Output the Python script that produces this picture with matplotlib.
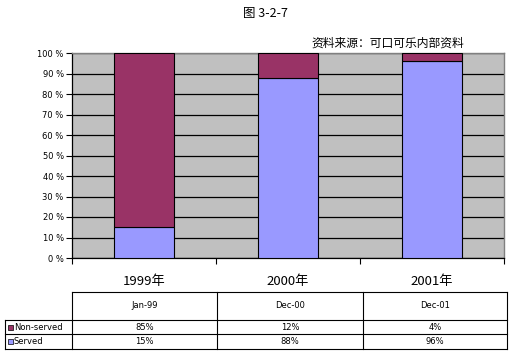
import numpy as np
import matplotlib.pyplot as plt

plt.rcParams['font.family'] = ['Noto Sans CJK SC', 'DejaVu Sans']

# data
years = ['1999年', '2000年', '2001年']
dates = ['Jan-99', 'Dec-00', 'Dec-01']
served = [15, 88, 96]
non_served = [85, 12, 4]
yticks = list(range(0, 101, 10))

c_non = '#993366'
c_srv = '#9999FF'

W, H = 513, 359
fig = plt.figure(figsize=(W / 100, H / 100), dpi=100)

# main plot area
x0, x1, y0, y1 = 72, 504, 258, 53
ax = fig.add_axes([x0 / W, 1 - y0 / H, (x1 - x0) / W, (y0 - y1) / H])
ax.set_facecolor('#C0C0C0')
x = np.arange(len(years))
ax.bar(x, served, width=0.41, color=c_srv, edgecolor='black', linewidth=0.8, zorder=3)
ax.bar(x, non_served, bottom=served, width=0.41, color=c_non, edgecolor='black',
       linewidth=0.8, zorder=3)
ax.set_xlim(-0.5, 2.5)
ax.set_ylim(0, 100)
ax.set_yticks(yticks)
ax.set_yticklabels([f'{v} %' for v in yticks], fontsize=6, family='DejaVu Sans')
ax.yaxis.grid(True, color='black', linewidth=0.9, zorder=1)
ax.set_xticks([-0.5, 0.5, 1.5, 2.5])
ax.set_xticklabels([])
ax.tick_params(axis='both', direction='out', length=4, width=0.8, color='black', pad=2)
for s in ['top', 'right']:
    ax.spines[s].set_color('#808080')
    ax.spines[s].set_linewidth(1)
for s in ['left', 'bottom']:
    ax.spines[s].set_color('black')
    ax.spines[s].set_linewidth(0.9)

# overlay in pixel coordinates for titles and data table
ov = fig.add_axes([0, 0, 1, 1])
ov.set_xlim(0, W)
ov.set_ylim(H, 0)
ov.axis('off')

ov.text(265, 14, '图 3-2-7', ha='center', va='center', fontsize=9)
ov.text(388, 43, '资料来源：可口可乐内部资料', ha='center', va='center', fontsize=8.5)

cx = [x0 + (i + 0.5) * (x1 - x0) / 3 for i in range(3)]
for i, lab in enumerate(years):
    ov.text(cx[i], 281, lab, ha='center', va='center', fontsize=9.5)

# table
cols = [72, 217, 363, 507]
rows = [292, 320, 334, 349]
lw = 0.8
ov.plot([cols[0], cols[-1]], [rows[0], rows[0]], color='black', lw=lw)
for r in rows[1:]:
    ov.plot([5, cols[-1]], [r, r], color='black', lw=lw)
for c in cols:
    ov.plot([c, c], [rows[0], rows[-1]], color='black', lw=lw)
ov.plot([5, 5], [rows[1], rows[-1]], color='black', lw=lw)

tcx = [(cols[i] + cols[i + 1]) / 2 for i in range(3)]
for i, d in enumerate(dates):
    ov.text(tcx[i], (rows[0] + rows[1]) / 2, d, ha='center', va='center', fontsize=6,
            family='DejaVu Sans')
series = [('Non-served', non_served, c_non), ('Served', served, c_srv)]
for k, (name, vals, col) in enumerate(series):
    ym = (rows[k + 1] + rows[k + 2]) / 2
    ov.add_patch(plt.Rectangle((7.5, ym - 2.5), 5, 5, facecolor=col, edgecolor='black', lw=0.5))
    ov.text(14, ym, name, ha='left', va='center', fontsize=6, family='DejaVu Sans')
    for i, v in enumerate(vals):
        ov.text(tcx[i], ym, f'{v}%', ha='center', va='center', fontsize=6, family='DejaVu Sans')

fig.savefig('out.png', dpi=100)
